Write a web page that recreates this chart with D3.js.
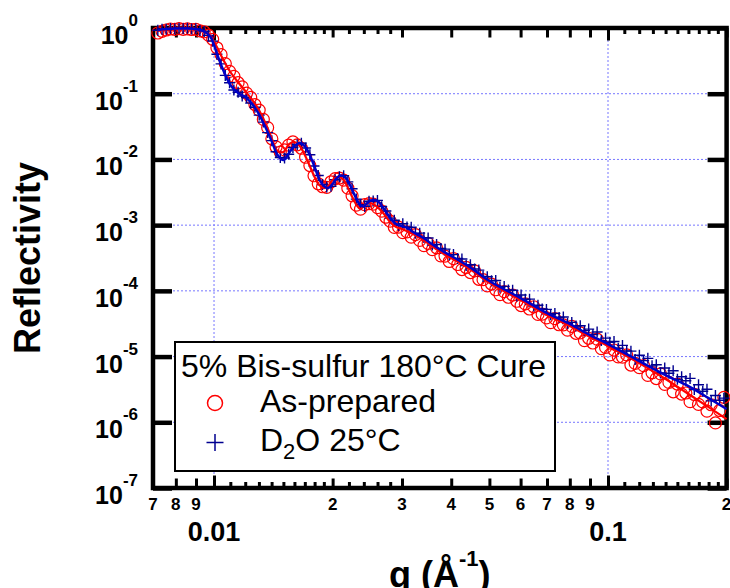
<!DOCTYPE html>
<html>
<head>
<meta charset="utf-8">
<script src="https://cdn.jsdelivr.net/npm/d3@7"></script>
<style>
  body { margin: 0; background: #fff; }
  svg { display: block; }
  text { font-family: "Liberation Sans", Arial, sans-serif; }
</style>
</head>
<body>
<div id="chart"></div>
<script>
// measured points (q in 1/Å), both runs share the q grid
const qData = [0.00720, 0.00738, 0.00756, 0.00775, 0.00795, 0.00815, 0.00835, 0.00856, 0.00877, 0.00899,
  0.00921, 0.00944, 0.00968, 0.00992, 0.01017, 0.01042, 0.01068, 0.01095, 0.01123, 0.01151,
  0.01179, 0.01209, 0.01239, 0.01270, 0.01302, 0.01334, 0.01368, 0.01402, 0.01437, 0.01473,
  0.01510, 0.01547, 0.01586, 0.01626, 0.01666, 0.01708, 0.01751, 0.01794, 0.01839, 0.01885,
  0.01932, 0.01981, 0.02030, 0.02081, 0.02133, 0.02186, 0.02241, 0.02297, 0.02354, 0.02413,
  0.02474, 0.02535, 0.02599, 0.02664, 0.02730, 0.02798, 0.02868, 0.02940, 0.03014, 0.03089,
  0.03166, 0.03245, 0.03327, 0.03410, 0.03495, 0.03582, 0.03672, 0.03764, 0.03858, 0.03954,
  0.04053, 0.04155, 0.04258, 0.04365, 0.04474, 0.04586, 0.04700, 0.04818, 0.04938, 0.05062,
  0.05188, 0.05318, 0.05451, 0.05587, 0.05727, 0.05870, 0.06017, 0.06167, 0.06321, 0.06479,
  0.06641, 0.06807, 0.06978, 0.07152, 0.07331, 0.07514, 0.07702, 0.07894, 0.08092, 0.08294,
  0.08502, 0.08714, 0.08932, 0.09155, 0.09384, 0.09619, 0.09859, 0.10106, 0.10358, 0.10617,
  0.10883, 0.11155, 0.11434, 0.11720, 0.12013, 0.12313, 0.12621, 0.12936, 0.13260, 0.13591,
  0.13931, 0.14279, 0.14636, 0.15002, 0.15377, 0.15762, 0.16156, 0.16560, 0.16974, 0.17398,
  0.17833, 0.18279, 0.18736, 0.19204, 0.19684];

const rAsPrepared = [0.839, 0.891, 0.933, 0.966, 0.953, 0.977, 0.955, 0.970, 0.948, 0.957,
  0.904, 0.877, 0.780, 0.673, 0.500, 0.393, 0.287, 0.219, 0.184, 0.147,
  0.127, 0.102, 0.0881, 0.0684, 0.0564, 0.0406, 0.0305, 0.0206, 0.0155, 0.0129,
  0.0140, 0.0165, 0.0185, 0.0167, 0.0148, 0.0108, 0.00807, 0.00564, 0.00426, 0.00384,
  0.00375, 0.00457, 0.00511, 0.00521, 0.00485, 0.00365, 0.00280, 0.00202, 0.00175, 0.00205,
  0.00212, 0.00209, 0.00185, 0.00163, 0.00132, 0.00115, 9.25e-4, 9.33e-4, 7.69e-4, 7.89e-4,
  6.58e-4, 7.16e-4, 5.86e-4, 4.89e-4, 5.28e-4, 4.25e-4, 4.52e-4, 3.41e-4, 3.38e-4, 2.80e-4,
  3.09e-4, 2.52e-4, 2.11e-4, 2.27e-4, 1.90e-4, 2.01e-4, 1.50e-4, 1.48e-4, 1.19e-4, 1.27e-4,
  1.04e-4, 8.77e-5, 9.73e-5, 8.00e-5, 8.65e-5, 6.95e-5, 5.98e-5, 6.32e-5, 5.30e-5, 5.73e-5,
  4.38e-5, 4.42e-5, 3.87e-5, 3.28e-5, 3.77e-5, 3.05e-5, 3.04e-5, 2.52e-5, 2.88e-5, 2.26e-5,
  2.29e-5, 1.75e-5, 1.90e-5, 1.61e-5, 1.84e-5, 1.32e-5, 1.38e-5, 1.06e-5, 1.26e-5, 9.91e-6,
  9.79e-6, 1.06e-5, 7.43e-6, 7.87e-6, 6.78e-6, 7.28e-6, 5.16e-6, 5.68e-6, 4.63e-6, 5.46e-6,
  3.78e-6, 4.04e-6, 2.91e-6, 3.82e-6, 2.69e-6, 2.79e-6, 2.06e-6, 2.65e-6, 1.87e-6, 2.04e-6,
  1.48e-6, 1.85e-6, 9.77e-7, 1.51e-6, 2.40e-6];

const rD2O = [0.923, 0.959, 0.955, 0.982, 0.968, 0.989, 0.973, 0.989, 0.966, 0.973,
  0.914, 0.887, 0.771, 0.631, 0.399, 0.284, 0.190, 0.147, 0.114, 0.105,
  0.0925, 0.0875, 0.0719, 0.0622, 0.0473, 0.0370, 0.0256, 0.0193, 0.0131, 0.0107,
  0.0105, 0.0120, 0.0152, 0.0167, 0.0177, 0.0149, 0.0118, 0.00794, 0.00569, 0.00415,
  0.00381, 0.00391, 0.00490, 0.00543, 0.00564, 0.00456, 0.00358, 0.00249, 0.00204, 0.00193,
  0.00231, 0.00233, 0.00238, 0.00191, 0.00164, 0.00128, 0.00119, 9.89e-4, 0.00105, 9.33e-4,
  9.27e-4, 7.50e-4, 7.55e-4, 6.46e-4, 6.37e-4, 4.99e-4, 5.07e-4, 4.41e-4, 4.31e-4, 3.53e-4,
  3.56e-4, 3.11e-4, 3.05e-4, 2.43e-4, 2.50e-4, 2.16e-4, 2.07e-4, 1.66e-4, 1.64e-4, 1.42e-4,
  1.44e-4, 1.13e-4, 1.17e-4, 1.03e-4, 1.02e-4, 8.36e-5, 8.65e-5, 7.43e-5, 7.48e-5, 5.86e-5,
  6.04e-5, 5.31e-5, 5.22e-5, 4.33e-5, 4.54e-5, 3.94e-5, 4.01e-5, 3.18e-5, 3.31e-5, 2.92e-5,
  2.95e-5, 2.48e-5, 2.62e-5, 2.17e-5, 2.37e-5, 1.75e-5, 1.91e-5, 1.65e-5, 1.70e-5, 1.34e-5,
  1.48e-5, 1.22e-5, 1.21e-5, 9.06e-6, 1.05e-5, 8.67e-6, 9.40e-6, 7.23e-6, 7.50e-6, 5.64e-6,
  6.70e-6, 5.56e-6, 6.08e-6, 4.50e-6, 4.92e-6, 4.28e-6, 4.65e-6, 3.16e-6, 3.72e-6, 2.96e-6,
  3.19e-6, 2.12e-6, 2.55e-6, 2.17e-6, 2.33e-6];

// model fits
const qFit = [0.0072, 0.0076, 0.008, 0.0085, 0.009, 0.0095, 0.0098, 0.01, 0.0102, 0.0105,
  0.011, 0.0115, 0.012, 0.0125, 0.013, 0.0135, 0.014, 0.0145, 0.015, 0.0155,
  0.016, 0.0165, 0.017, 0.0175, 0.018, 0.0185, 0.019, 0.0195, 0.02, 0.0205,
  0.021, 0.0215, 0.022, 0.0225, 0.023, 0.0235, 0.024, 0.0245, 0.025, 0.026,
  0.027, 0.028, 0.029, 0.03, 0.031, 0.032, 0.034, 0.036, 0.038, 0.04,
  0.045, 0.05, 0.06, 0.07, 0.08, 0.09, 0.1, 0.12, 0.14, 0.16, 0.18, 0.2];

const fitAsPrepared = [0.899, 0.948, 0.966, 0.966, 0.948, 0.869, 0.755, 0.612, 0.497, 0.349,
  0.214, 0.151, 0.110, 0.0802, 0.0565, 0.0358, 0.0212, 0.0134, 0.0130, 0.0171,
  0.0184, 0.0160, 0.0117, 0.00794, 0.00540, 0.00407, 0.00367, 0.00394, 0.00485, 0.00540,
  0.00530, 0.00453, 0.00342, 0.00258, 0.00202, 0.00176, 0.00195, 0.00217, 0.00217, 0.00188,
  0.00148, 0.00111, 9.35e-4, 8.73e-4, 8.00e-4, 7.33e-4, 5.93e-4, 4.65e-4, 3.76e-4, 3.16e-4,
  2.07e-4, 1.32e-4, 7.24e-5, 4.29e-5, 2.91e-5, 1.98e-5, 1.45e-5, 7.96e-6, 4.55e-6, 2.69e-6,
  1.70e-6, 1.12e-6];

const fitD2O = [0.933, 0.966, 0.982, 0.982, 0.966, 0.869, 0.729, 0.551, 0.388, 0.246,
  0.136, 0.103, 0.0891, 0.0697, 0.0491, 0.0311, 0.0191, 0.0117, 0.00980, 0.0125,
  0.0160, 0.0178, 0.0160, 0.0117, 0.00766, 0.00504, 0.00394, 0.00367, 0.00423, 0.00521,
  0.00569, 0.00540, 0.00438, 0.00330, 0.00249, 0.00202, 0.00192, 0.00217, 0.00237, 0.00233,
  0.00176, 0.00128, 0.00104, 9.68e-4, 9.04e-4, 7.85e-4, 6.37e-4, 4.98e-4, 4.04e-4, 3.39e-4,
  2.22e-4, 1.41e-4, 7.76e-5, 4.59e-5, 3.13e-5, 2.12e-5, 1.55e-5, 8.55e-6, 5.22e-6, 3.56e-6,
  2.33e-6, 1.59e-6];

// axes
const yDecades = [1, 1e-1, 1e-2, 1e-3, 1e-4, 1e-5, 1e-6, 1e-7];
const xMajorTicks = [0.01, 0.1];
const xMajorLabels = ["0.01", "0.1"];
const xMinorTicks = [0.007, 0.008, 0.009, 0.02, 0.03, 0.04, 0.05, 0.06, 0.07, 0.08, 0.09, 0.2];
const xSmallTicks = [0.011, 0.012, 0.013, 0.014, 0.015, 0.016, 0.017, 0.018, 0.019,
  0.022, 0.024, 0.026, 0.028,
  0.11, 0.12, 0.13, 0.14, 0.15, 0.16, 0.17, 0.18, 0.19];

const legendTitle = "5% Bis-sulfur 180°C Cure";

const W = 730, H = 588;
const plot = { left: 153, right: 726.6, top: 28, bottom: 488 };
const red = "#ff0000", navy = "#000090", lineBlue = "#0000c8";

const svg = d3.select("#chart").append("svg")
  .attr("width", W).attr("height", H);

const x = d3.scaleLog().domain([0.007, 0.2]).range([plot.left, plot.right]);
const y = d3.scaleLog().domain([1, 1e-7]).range([plot.top, plot.bottom]);

// dotted grid
const grid = svg.append("g")
  .attr("stroke", "#7676ff")
  .attr("stroke-width", 1)
  .attr("stroke-dasharray", "2,2");
grid.selectAll(".gh").data(yDecades.slice(1, -1)).join("line").attr("class", "gh")
  .attr("x1", plot.left).attr("x2", plot.right)
  .attr("y1", d => y(d)).attr("y2", d => y(d));
grid.selectAll(".gv").data(xMajorTicks).join("line").attr("class", "gv")
  .attr("x1", d => x(d)).attr("x2", d => x(d))
  .attr("y1", plot.top).attr("y2", plot.bottom);

// ticks pointing inward on all four sides
function ticks(axis, values, size, dy, dx, width) {
  svg.append("g")
    .attr("transform", `translate(${dx || 0},${dy || 0})`)
    .call(axis.tickValues(values).tickSize(size).tickSizeOuter(0).tickFormat(""))
    .call(g => g.select(".domain").remove())
    .call(g => g.selectAll(".tick line").attr("stroke", "#000").attr("stroke-width", width || 3));
}
ticks(d3.axisBottom(x), xMajorTicks, -12.5, plot.bottom);
ticks(d3.axisBottom(x), xMinorTicks, -9.5, plot.bottom);
ticks(d3.axisBottom(x), xSmallTicks, -6, plot.bottom);
ticks(d3.axisTop(x), xMajorTicks, -12.5, plot.top);
ticks(d3.axisTop(x), xMinorTicks, -9.5, plot.top);
ticks(d3.axisTop(x), xSmallTicks, -6, plot.top);
ticks(d3.axisLeft(y), yDecades, -19, 0, plot.left, 4.5);
ticks(d3.axisRight(y), yDecades, -19, 0, plot.right, 4.5);

svg.append("rect")
  .attr("x", plot.left).attr("y", plot.top)
  .attr("width", plot.right - plot.left).attr("height", plot.bottom - plot.top)
  .attr("fill", "none").attr("stroke", "#000").attr("stroke-width", 4.5);

// tick labels
svg.append("g").attr("font-weight", "bold").attr("font-size", 17).attr("text-anchor", "middle")
  .selectAll("text").data(xMinorTicks).join("text")
  .attr("x", d => x(d)).attr("y", 510)
  .text(d => Math.round(d / Math.pow(10, Math.floor(Math.log10(d) + 1e-9))));

svg.append("g").attr("font-weight", "bold").attr("font-size", 27).attr("text-anchor", "middle")
  .selectAll("text").data(xMajorTicks).join("text")
  .attr("x", d => x(d)).attr("y", 541)
  .text((d, i) => xMajorLabels[i]);

svg.append("g").attr("font-weight", "bold").attr("text-anchor", "end")
  .selectAll("text").data(yDecades).join("text")
  .attr("x", 138).attr("y", d => y(d) + 16).attr("font-size", 25)
  .each(function (d) {
    const t = d3.select(this);
    const e = Math.round(Math.log10(d));
    t.append("tspan").text("10");
    t.append("tspan").attr("font-size", 17).attr("dy", -18).text(String(e));
  });

// axis titles
svg.append("text")
  .attr("transform", `translate(40,${(plot.top + plot.bottom) / 2}) rotate(-90)`)
  .attr("text-anchor", "middle").attr("font-weight", "bold").attr("font-size", 36)
  .text("Reflectivity");

const xt = svg.append("text")
  .attr("x", (plot.left + plot.right) / 2).attr("y", 587)
  .attr("text-anchor", "middle").attr("font-weight", "bold").attr("font-size", 36);
xt.append("tspan").text("q (Å");
xt.append("tspan").attr("font-size", 22).attr("dy", -21).text("-1");
xt.append("tspan").attr("dy", 21).text(")");

// data
const ptsA = qData.map((q, i) => [q, rAsPrepared[i]]);
const ptsB = qData.map((q, i) => [q, rD2O[i]]);

svg.append("g").selectAll("circle").data(ptsA).join("circle")
  .attr("cx", d => x(d[0])).attr("cy", d => y(d[1])).attr("r", 6)
  .attr("fill", "none").attr("stroke", red).attr("stroke-width", 1.2);

svg.append("g").selectAll("path").data(ptsB).join("path")
  .attr("transform", d => `translate(${x(d[0])},${y(d[1])})`)
  .attr("d", "M-5.5,0H5.5M0,-5.5V5.5")
  .attr("stroke", navy).attr("stroke-width", 1.4);

const line = d3.line().x(d => x(d[0])).y(d => y(d[1])).curve(d3.curveCatmullRom);
svg.append("path").datum(qFit.map((q, i) => [q, fitAsPrepared[i]]))
  .attr("d", line).attr("fill", "none").attr("stroke", red).attr("stroke-width", 2.2);
svg.append("path").datum(qFit.map((q, i) => [q, fitD2O[i]]))
  .attr("d", line).attr("fill", "none").attr("stroke", lineBlue).attr("stroke-width", 2.5);

// legend
const lg = svg.append("g");
lg.append("rect").attr("x", 175).attr("y", 342).attr("width", 380).attr("height", 129)
  .attr("fill", "#fff").attr("stroke", "#000").attr("stroke-width", 2);
lg.append("text").attr("x", 181).attr("y", 376.5).attr("font-size", 32).text(legendTitle);
lg.append("circle").attr("cx", 215).attr("cy", 403).attr("r", 7.5)
  .attr("fill", "none").attr("stroke", red).attr("stroke-width", 1.5);
lg.append("text").attr("x", 260).attr("y", 411.5).attr("font-size", 32).text("As-prepared");
lg.append("path").attr("transform", "translate(215,442.5)").attr("d", "M-8.5,0H8.5M0,-8.5V8.5")
  .attr("stroke", navy).attr("stroke-width", 1.5);
const t2 = lg.append("text").attr("x", 260).attr("y", 450.5).attr("font-size", 32);
t2.append("tspan").text("D");
t2.append("tspan").attr("font-size", 22).attr("dy", 8).text("2");
t2.append("tspan").attr("dy", -8).text("O 25°C");
</script>
</body>
</html>
